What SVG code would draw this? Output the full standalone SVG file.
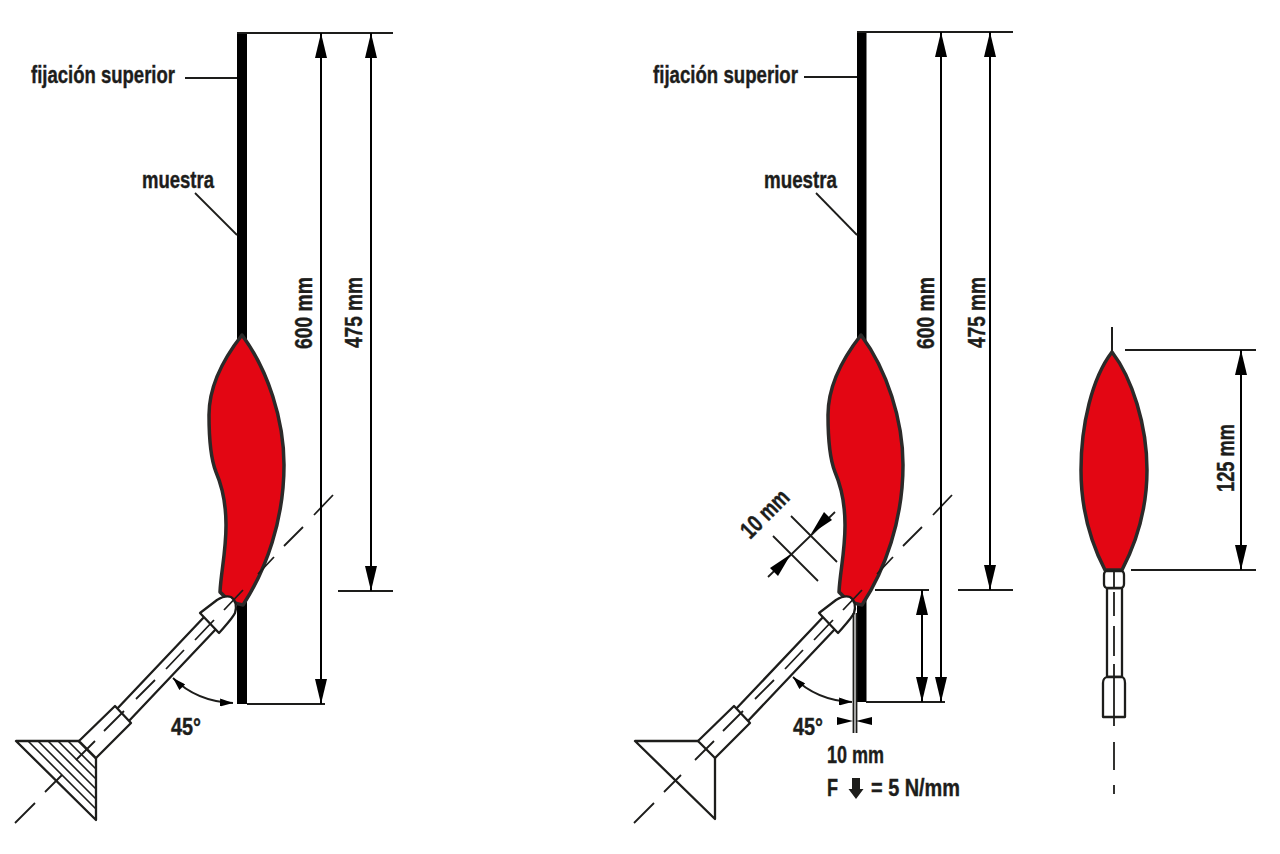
<svg xmlns="http://www.w3.org/2000/svg" width="1280" height="854" viewBox="0 0 1280 854">
<style>
.l{fill:none;stroke:#1d1d1b;stroke-width:1.8}
.t{fill:none;stroke:#1d1d1b;stroke-width:2}
.h{fill:none;stroke:#1d1d1b;stroke-width:1.6}
.f{fill:#e30613;stroke:#2b2a29;stroke-width:3.500;stroke-linejoin:round}
.n{fill:#fff;stroke:#1d1d1b;stroke-width:2.300;stroke-linejoin:round}
.s{fill:#000}
.a{fill:none;stroke:#000;stroke-width:2;marker-start:url(#as);marker-end:url(#ae)}
.c{fill:none;stroke:#1d1d1b;stroke-width:1.800}
text{font-family:"Liberation Sans Narrow","Liberation Sans",Arial,sans-serif;font-weight:700;font-size:24px;fill:#1d1d1b;stroke:#1d1d1b;stroke-width:.4}
</style>
<defs>
<marker id="ae" markerUnits="userSpaceOnUse" markerWidth="26" markerHeight="12" refX="25" refY="6" orient="auto"><path d="M0 0L25 6L0 12Z" fill="#000"/></marker>
<marker id="as" markerUnits="userSpaceOnUse" markerWidth="26" markerHeight="12" refX="0" refY="6" orient="auto"><path d="M25 0L0 6L25 12Z" fill="#000"/></marker>
<marker id="se" markerUnits="userSpaceOnUse" markerWidth="14" markerHeight="8" refX="13" refY="4" orient="auto"><path d="M0 0L13 4L0 8Z" fill="#000"/></marker>
<marker id="ss" markerUnits="userSpaceOnUse" markerWidth="14" markerHeight="8" refX="0" refY="4" orient="auto"><path d="M13 0L0 4L13 8Z" fill="#000"/></marker>
<path id="flame" d="M242 335C224 358 209 385 209 415C209 440 212 462 216 472C222 486 226 505 226 525C226 552 221 572 220 592C227 600 236 604 243 605C266 570 284 520 284 465C284 420 268 370 242 335Z"/>
<g id="torch">
<path class="n" d="M115 711L206 615L216 629L127 723Z"/>
<path class="n" d="M115 706L131 723L96 758L79 741Z"/>
<path class="n" d="M200 613L217 600C222 597 228 596 231 597C236 600 237 607 235 613C232 619 225 626 219 633Z"/>
</g>
<path id="axis" class="l" d="M15 823L35 803M45 792L62 775M76 760L95 741M104 731L124 711M136 699L155 680M166 669L184 650M195 640L214 620M224 610L243 590M258 574L274 557M284 546L303 527M314 515L333 495"/>
</defs>
<g id="left-diagram">
<g id="left-specimen">
<rect class="s" x="237" y="32" width="10" height="672"/>
<line class="t" x1="237" y1="33" x2="393" y2="33"/>
<line class="t" x1="247" y1="704" x2="325" y2="704"/>
<line class="t" x1="338" y1="591" x2="393" y2="591"/>
</g>
<g id="left-flame"><use href="#flame" class="f"/></g>
<g id="left-torch">
<path class="n" d="M16 741H96V820Z"/>
<path class="h" d="M28 741L96 809M38 741L96 799M48 741L96 789M58 741L96 779M68 741L96 769M78 741L96 759"/>
<use href="#torch"/>
<use href="#axis"/>
</g>
<g id="left-labels">
<text x="31" y="83" textLength="144" lengthAdjust="spacingAndGlyphs">fijación superior</text>
<text x="142" y="188" textLength="72" lengthAdjust="spacingAndGlyphs">muestra</text>
<text x="171" y="735" textLength="30" lengthAdjust="spacingAndGlyphs">45°</text>
<text transform="translate(312 349) rotate(-90)" textLength="72" lengthAdjust="spacingAndGlyphs">600 mm</text>
<text transform="translate(362 348) rotate(-90)" textLength="71" lengthAdjust="spacingAndGlyphs">475 mm</text>
</g>
</g>
<g id="middle-diagram">
<g id="mid-specimen">
<rect class="s" x="857" y="32" width="9.500" height="670"/>
<line class="t" x1="857" y1="32" x2="1013" y2="32"/>
<line class="t" x1="866" y1="702" x2="945" y2="702"/>
<line class="t" x1="875" y1="590" x2="929" y2="590"/>
<line class="t" x1="958" y1="590" x2="1013" y2="590"/>
</g>
<g id="mid-flame"><use href="#flame" class="f" x="619"/></g>
<g id="mid-torch">
<path class="n" d="M635 741H715V819Z"/>
<use href="#torch" x="619"/>
<use href="#axis" x="619"/>
</g>
<g id="mid-labels">
<text x="653" y="83" textLength="145" lengthAdjust="spacingAndGlyphs">fijación superior</text>
<text x="764" y="188" textLength="73" lengthAdjust="spacingAndGlyphs">muestra</text>
<text x="793" y="735" textLength="30" lengthAdjust="spacingAndGlyphs">45°</text>
<text transform="translate(934 349) rotate(-90)" textLength="72" lengthAdjust="spacingAndGlyphs">600 mm</text>
<text transform="translate(985 348) rotate(-90)" textLength="71" lengthAdjust="spacingAndGlyphs">475 mm</text>
<text transform="translate(750 540) rotate(-45)" textLength="58" lengthAdjust="spacingAndGlyphs">10 mm</text>
<text x="827" y="763" textLength="57" lengthAdjust="spacingAndGlyphs">10 mm</text>
<text x="827" y="796" textLength="11" lengthAdjust="spacingAndGlyphs">F</text>
<path fill="#1d1d1b" d="M852 778H860V789H863.500L856 799L848.500 789H852Z"/>
<text x="871" y="796" textLength="89" lengthAdjust="spacingAndGlyphs">= 5 N/mm</text>
</g>
</g>
<g id="right-diagram">
<g id="right-flame">
<line class="t" x1="1112" y1="327" x2="1112" y2="352"/>
<path class="f" d="M1112 352C1092 378 1081 425 1081 470C1081 510 1092 545 1105 570H1122C1135 545 1147 510 1147 470C1147 425 1132 378 1112 352Z"/>
</g>
<g id="right-torch">
<path class="n" d="M1107 588H1122V677H1107Z"/>
<path class="n" d="M1106 571H1122Q1124 572 1124 575V584Q1124 588 1120 588H1108Q1104 588 1104 584V575Q1104 572 1106 571Z"/>
<path class="n" d="M1107 677H1122Q1125 678 1125 683V717H1103V683Q1103 678 1107 677Z"/>
<path class="l" d="M1114 570V588M1114 592V616M1114 626V656M1114 664V726M1114 742V770M1114 785V794"/>
</g>
<g id="right-labels">
<line class="t" x1="1125" y1="350" x2="1256" y2="350"/>
<line class="t" x1="1131" y1="570" x2="1256" y2="570"/>
<text transform="translate(1234 492) rotate(-90)" textLength="68" lengthAdjust="spacingAndGlyphs">125 mm</text>
</g>
</g>
<g id="connectors">
<line class="c" x1="185" y1="78" x2="237" y2="78"/>
<line class="c" x1="195" y1="193" x2="237" y2="235"/>
<line class="a" x1="321" y1="33" x2="321" y2="704"/>
<line class="a" x1="371" y1="33" x2="371" y2="591"/>
<path class="c" d="M173 678C188 693 208 702 233 703" marker-start="url(#ss)" marker-end="url(#se)"/>
<line class="c" x1="804" y1="77" x2="857" y2="77"/>
<line class="c" x1="816" y1="193" x2="857" y2="235"/>
<line class="a" x1="941" y1="32" x2="941" y2="702"/>
<line class="a" x1="990" y1="32" x2="990" y2="590"/>
<line class="a" x1="922" y1="590" x2="922" y2="702"/>
<path class="c" d="M793 677C808 692 828 701 852 702" marker-start="url(#ss)" marker-end="url(#se)"/>
<path class="c" d="M791 516L837 562M773 536L818 581M768 577L835 512"/>
<polygon class="s" points="811,534 824,512 832,520"/>
<polygon class="s" points="791,554 778,576 770,568"/>
<path class="c" d="M853.500 613V733M856.500 613V733"/>
<polygon class="s" points="853,721 837,717 837,725"/>
<polygon class="s" points="856,721 872,717 872,725"/>
<line class="a" x1="1241" y1="350" x2="1241" y2="570"/>
</g>
</svg>
